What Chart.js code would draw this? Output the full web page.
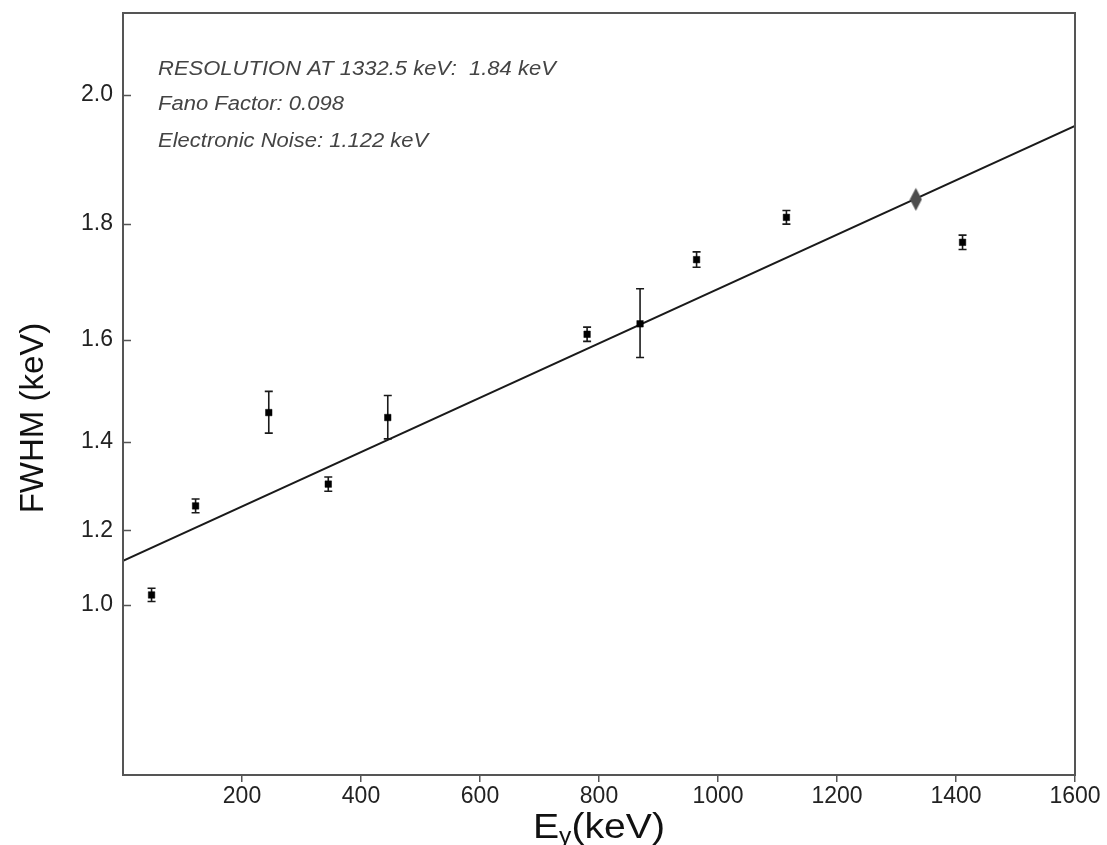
<!DOCTYPE html>
<html><head><meta charset="utf-8">
<script src="https://cdn.jsdelivr.net/npm/chart.js@4.4.1/dist/chart.umd.min.js"></script>
<style>html,body{margin:0;padding:0;background:#fff;} #wrap{width:1107px;height:845px;}</style>
</head><body><div id="wrap"><canvas id="c" width="1107" height="845"></canvas></div>
<script>
// ---- data ----
const energies = [48, 122, 245, 345, 445, 780, 869, 964, 1115, 1411];
const fwhm = [1.029, 1.258, 1.460, 1.308, 1.450, 1.610, 1.629, 1.741, 1.811, 1.770];
const fwhmErr = [0.019, 0.016, 0.042, 0.016, 0.044, 0.013, 0.062, 0.013, 0.011, 0.012];
const fitEnergies = [0, 1600];
const fitFwhm = [1.1225, 1.954];
const refEnergy = [1332.5];
const refFwhm = [1.84];
const xTickValues = [200, 400, 600, 800, 1000, 1200, 1400, 1600];
const yTickValues = [1.0, 1.2, 1.4, 1.6, 1.8, 2.0];
const noteLines = ['RESOLUTION AT 1332.5 keV:  1.84 keV', 'Fano Factor: 0.098', 'Electronic Noise: 1.122 keV'];
const xTitleMain = 'E', xTitleSub = '\u03B3', xTitleUnit = '(keV)';
const yTitle = 'FWHM (keV)';

const FONT = "'Liberation Sans', Arial, Helvetica, sans-serif";

// y axis is linear in FWHM^2
class SquaredScale extends Chart.LinearScale {
  configure() {
    super.configure();
    this._sqStart = this.min * this.min;
    this._sqRange = this.max * this.max - this._sqStart;
  }
  getPixelForValue(v) {
    if (v === null || v === undefined || isNaN(v)) return NaN;
    return this.getPixelForDecimal((v * v - this._sqStart) / this._sqRange);
  }
  getValueForPixel(p) {
    const d = this.getDecimalForPixel(p);
    return Math.sqrt(Math.max(0, this._sqStart + d * this._sqRange));
  }
}
SquaredScale.id = 'squared';
SquaredScale.defaults = Chart.LinearScale.defaults;
Chart.register(SquaredScale);

// tall diamond marker
const diamond = document.createElement('canvas');
diamond.width = 13; diamond.height = 25;
(function () {
  const g = diamond.getContext('2d');
  g.fillStyle = '#4d4d4d';
  g.beginPath();
  g.moveTo(6.5, 1); g.lineTo(12.5, 12.5); g.lineTo(6.5, 24); g.lineTo(0.5, 12.5);
  g.closePath(); g.fill();
})();

const errorBars = {
  id: 'errorBars',
  beforeDatasetsDraw(chart) {
    const xs = chart.scales.x, ys = chart.scales.y, ctx = chart.ctx;
    ctx.save();
    ctx.strokeStyle = '#1a1a1a';
    ctx.lineWidth = 1.6;
    for (let i = 0; i < energies.length; i++) {
      const x = xs.getPixelForValue(energies[i]);
      const yt = ys.getPixelForValue(fwhm[i] + fwhmErr[i]);
      const yb = ys.getPixelForValue(fwhm[i] - fwhmErr[i]);
      ctx.beginPath();
      ctx.moveTo(x, yt); ctx.lineTo(x, yb);
      ctx.moveTo(x - 4, yt); ctx.lineTo(x + 4, yt);
      ctx.moveTo(x - 4, yb); ctx.lineTo(x + 4, yb);
      ctx.stroke();
    }
    ctx.restore();
  }
};

const decor = {
  id: 'decor',
  afterDraw(chart) {
    const a = chart.chartArea, ctx = chart.ctx, ys = chart.scales.y;
    ctx.save();
    // frame
    ctx.strokeStyle = '#555';
    ctx.lineWidth = 2;
    ctx.strokeRect(a.left, a.top, a.right - a.left, a.bottom - a.top);
    // inner y ticks
    ctx.lineWidth = 1.5;
    ctx.beginPath();
    yTickValues.forEach(v => {
      const y = Math.round(ys.getPixelForValue(v)) + 0.5;
      ctx.moveTo(a.left, y); ctx.lineTo(a.left + 8, y);
    });
    ctx.stroke();
    // notes
    ctx.fillStyle = '#444';
    ctx.font = 'italic 20px ' + FONT;
    ctx.textAlign = 'left';
    ctx.textBaseline = 'alphabetic';
    const base = [75, 110, 147];
    noteLines.forEach((t, i) => {
      ctx.save();
      ctx.translate(158, base[i]);
      ctx.scale(1.1, 1);
      ctx.fillText(t, 0, 0);
      ctx.restore();
    });
    // y title
    ctx.fillStyle = '#111';
    ctx.save();
    ctx.translate(34, 418);
    ctx.rotate(-Math.PI / 2);
    ctx.font = '33px ' + FONT;
    ctx.textAlign = 'center';
    ctx.textBaseline = 'middle';
    ctx.fillText(yTitle, 0, 0);
    ctx.restore();
    // x title
    ctx.textAlign = 'left';
    ctx.textBaseline = 'alphabetic';
    ctx.font = '35px ' + FONT;
    const wE = ctx.measureText(xTitleMain).width;
    const wU = ctx.measureText(xTitleUnit).width;
    ctx.font = '22px ' + FONT;
    const wG = ctx.measureText(xTitleSub).width;
    const sx = 1.12;
    ctx.translate(599 - sx * (wE + wG + wU) / 2, 838);
    ctx.scale(sx, 1);
    ctx.font = '35px ' + FONT;
    ctx.fillText(xTitleMain, 0, 0);
    ctx.font = '22px ' + FONT;
    ctx.fillText(xTitleSub, wE, 5);
    ctx.font = '35px ' + FONT;
    ctx.fillText(xTitleUnit, wE + wG, 0);
    ctx.restore();
  }
};

new Chart(document.getElementById('c'), {
  type: 'scatter',
  data: {
    datasets: [
      {
        label: 'fit',
        data: fitEnergies.map((e, i) => ({ x: e, y: fitFwhm[i] })),
        showLine: true,
        borderColor: '#1a1a1a',
        borderWidth: 2,
        pointRadius: 0,
        order: 3
      },
      {
        label: 'measured',
        data: energies.map((e, i) => ({ x: e, y: fwhm[i] })),
        pointStyle: 'rect',
        pointRadius: 4.6,
        backgroundColor: '#000',
        borderColor: '#000',
        borderWidth: 0.5,
        order: 1
      },
      {
        label: '1332.5 keV',
        data: refEnergy.map((e, i) => ({ x: e, y: refFwhm[i] })),
        pointStyle: diamond,
        pointRadius: 8,
        order: 0
      }
    ]
  },
  options: {
    responsive: false,
    animation: false,
    devicePixelRatio: 1,
    layout: { padding: { top: 13, right: 32, left: 0, bottom: 0 } },
    plugins: { legend: { display: false }, tooltip: { enabled: false } },
    scales: {
      x: {
        type: 'linear',
        min: 0, max: 1600,
        afterBuildTicks: s => { s.ticks = xTickValues.map(v => ({ value: v })); },
        afterFit: s => { s.height = 70; s.paddingLeft = 0; s.paddingRight = 0; },
        grid: { drawOnChartArea: false, drawTicks: true, tickLength: 7, color: '#555', lineWidth: 1.5 },
        border: { display: false },
        ticks: { color: '#222', font: { family: FONT, size: 23 }, padding: 1, maxRotation: 0, autoSkip: false,
                 callback: v => String(v) }
      },
      y: {
        type: 'squared',
        min: 0, max: 2.117,
        afterBuildTicks: s => { s.ticks = yTickValues.map(v => ({ value: v })); },
        afterFit: s => { s.width = 123; s.paddingTop = 0; s.paddingBottom = 0; },
        grid: { drawOnChartArea: false, drawTicks: false },
        border: { display: false },
        ticks: { color: '#222', font: { family: FONT, size: 23 }, padding: 10, autoSkip: false,
                 callback: v => Number(v).toFixed(1) }
      }
    }
  },
  plugins: [errorBars, decor]
});
</script>
</body></html>
